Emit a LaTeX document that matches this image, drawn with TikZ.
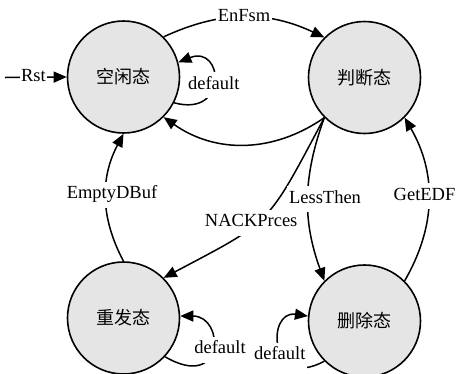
\documentclass[tikz,border=0pt]{standalone}
\usepackage{fontspec}
\setmainfont{Liberation Serif}
\newfontfamily\cjk{Noto Sans CJK SC}
\usetikzlibrary{arrows.meta}

\begin{document}
\begin{tikzpicture}[x=1pt,y=-1pt,
  state/.style={circle, draw, line width=1.6pt, fill=black!10,
    minimum size=112pt, inner sep=0pt, font=\cjk\fontsize{18}{18}\selectfont},
  edge/.style={line width=1.5pt, -{Triangle[length=13pt,width=11pt]}},
  lbl/.style={fill=white, inner xsep=2pt, inner ysep=5pt,
    text height=12pt, text depth=4pt, font=\fontsize{18.5}{18.5}\selectfont}
]
\useasboundingbox (0,0) rectangle (456,373);

% states
\node[state] (idle)   at (123.5,77)   {空闲态};
\node[state] (judge)  at (364.5,77.5) {判断态};
\node[state] (resend) at (123.5,318)  {重发态};
\node[state] (del)    at (364.5,321)  {删除态};
\coordinate (rst) at (5,77.5);

% reset entry
\draw[edge] (rst) -- node[lbl, pos=0.46, inner xsep=1pt]{Rst} (idle.west);

% transitions
\draw[edge] (idle.45) to[bend left=25] node[lbl]{EnFsm} (judge.135);
\draw[edge] (judge.225) to[bend left=35] (idle.-45);
\draw[edge] (judge.225) to[bend left=17, looseness=1.4]
  node[lbl, pos=0.55, xshift=-6pt]{NACKPrces} (resend.45);
\draw[edge] (judge.225) to[bend right=20]
  node[lbl, xshift=17pt]{LessThen} (del.135);
\draw[edge] (del.45) to[bend right=30]
  node[lbl, xshift=-4pt, yshift=3pt]{GetEDF} (judge.-45);
\draw[edge] (resend.90) to[bend left=28]
  node[lbl, xshift=6pt, yshift=3pt]{EmptyDBuf} (idle.270);

% self loops
\draw[edge] (idle.-27) .. controls +(55,15) and +(45,-18) ..
  node[lbl, yshift=-4pt]{default} (idle.15);
\draw[edge] (resend.-43) .. controls +(60,35) and +(45,0) ..
  node[lbl, xshift=8pt]{default} (resend.2);
\draw[edge] (del.225) .. controls +(-55,30) and +(-42,-6) ..
  node[lbl, yshift=-8pt]{default} (del.175);
\end{tikzpicture}
\end{document}
